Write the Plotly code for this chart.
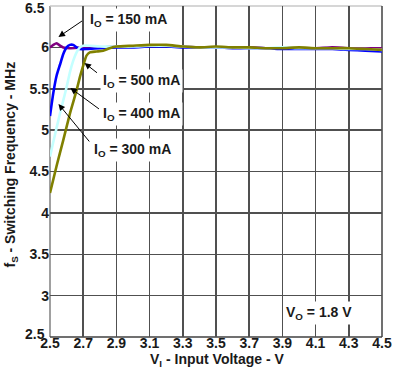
import plotly.graph_objects as go

# ---- data ----
vin_150 = [2.50, 2.52, 2.54, 2.56, 2.58, 2.62, 2.70, 2.80, 2.90, 3.00, 3.10, 3.20, 3.30,
           3.40, 3.50, 3.60, 3.70, 3.80, 3.90, 4.00, 4.10, 4.20, 4.30, 4.40, 4.50]
f_150 = [6.00, 6.03, 6.05, 6.02, 6.00, 5.99, 6.00, 6.00, 6.01, 6.01, 6.02, 6.02, 6.01,
         6.00, 6.00, 6.00, 6.00, 5.99, 5.99, 5.99, 5.99, 6.00, 5.99, 5.99, 5.99]

vin_500 = [2.50, 2.52, 2.54, 2.56, 2.58, 2.60, 2.62, 2.64, 2.66, 2.68, 2.72, 2.80, 2.90,
           3.00, 3.10, 3.20, 3.30, 3.40, 3.50, 3.60, 3.70, 3.80, 3.90, 4.00, 4.10, 4.20,
           4.30, 4.40, 4.50]
f_500 = [5.17, 5.45, 5.66, 5.79, 5.92, 6.00, 6.03, 6.03, 6.00, 5.98, 5.98, 5.99, 6.00,
         6.00, 6.01, 6.01, 6.00, 6.00, 6.00, 5.99, 5.99, 5.99, 5.98, 5.98, 5.98, 5.98,
         5.97, 5.96, 5.95]

vin_400 = [2.50, 2.52, 2.54, 2.56, 2.58, 2.60, 2.62, 2.64, 2.66, 2.68, 2.70, 2.74, 2.80,
           2.90, 3.00, 3.10, 3.20, 3.30, 3.40, 3.50, 3.60, 3.70, 3.80, 3.90, 4.00, 4.10,
           4.20, 4.30, 4.40, 4.50]
f_400 = [4.68, 4.86, 5.03, 5.20, 5.36, 5.52, 5.70, 5.84, 5.94, 6.00, 6.02, 6.02, 6.01,
         6.01, 6.01, 6.02, 6.02, 6.01, 6.00, 6.00, 6.00, 5.99, 5.99, 6.00, 5.99, 5.99,
         5.99, 5.98, 5.98, 5.97]

vin_300 = [2.50, 2.54, 2.58, 2.62, 2.66, 2.68, 2.70, 2.72, 2.74, 2.78, 2.82, 2.86, 2.90,
           3.00, 3.10, 3.20, 3.30, 3.40, 3.50, 3.60, 3.70, 3.80, 3.90, 4.00, 4.10, 4.20,
           4.30, 4.40, 4.50]
f_300 = [4.24, 4.57, 4.88, 5.20, 5.48, 5.64, 5.78, 5.90, 5.94, 5.95, 5.96, 5.99, 6.01,
         6.02, 6.03, 6.03, 6.01, 6.00, 6.01, 6.00, 6.00, 5.99, 5.99, 6.00, 5.99, 5.99,
         5.99, 5.98, 5.97]

x_ticks = [2.5, 2.7, 2.9, 3.1, 3.3, 3.5, 3.7, 3.9, 4.1, 4.3, 4.5]
x_tick_labels = ["2.5", "2.7", "2.9", "3.1", "3.3", "3.5", "3.7", "3.9", "4.1", "4.3", "4.5"]
y_ticks = [2.5, 3, 3.5, 4, 4.5, 5, 5.5, 6, 6.5]
y_tick_labels = ["2.5", "3", "3.5", "4", "4.5", "5", "5.5", "6", "6.5"]

series = [
    ("I<sub>O</sub> = 150 mA", vin_150, f_150, "#800080"),
    ("I<sub>O</sub> = 500 mA", vin_500, f_500, "#0000FF"),
    ("I<sub>O</sub> = 400 mA", vin_400, f_400, "#C4FFFF"),
    ("I<sub>O</sub> = 300 mA", vin_300, f_300, "#808000"),
]

FONT = "Liberation Sans, Arial, sans-serif"
TXT = "#1a1a1a"

fig = go.Figure()
for name, xs, ys, col in series:
    fig.add_trace(go.Scatter(x=xs, y=ys, mode="lines", name=name,
                             line=dict(color=col, width=2.6, shape="spline", smoothing=0.5)))

# arrows: (head_x, head_y, tail_x, tail_y)
arrows = [
    (2.551, 6.126, 2.702, 6.331),
    (2.708, 5.811, 2.792, 5.679),
    (2.623, 5.509, 2.804, 5.243),
    (2.551, 5.316, 2.744, 4.845),
]
labels = [
    ("<b>I<sub>O</sub> = 150 mA</b>", 2.975, 6.33),
    ("<b>I<sub>O</sub> = 500 mA</b>", 3.051, 5.594),
    ("<b>I<sub>O</sub> = 400 mA</b>", 3.051, 5.195),
    ("<b>I<sub>O</sub> = 300 mA</b>", 2.997, 4.760),
    ("<b>V<sub>O</sub> = 1.8 V</b>", 4.123, 2.79),
]

annotations = []
for (hx, hy, tx, ty) in arrows:
    annotations.append(dict(x=hx, y=hy, ax=tx, ay=ty, xref="x", yref="y",
                            axref="x", ayref="y", text="", showarrow=True,
                            arrowhead=2, arrowsize=1.3, arrowwidth=1, arrowcolor="#000000"))
for txt, lx, ly in labels:
    annotations.append(dict(x=lx, y=ly, xref="x", yref="y", text=txt, showarrow=False,
                            bgcolor="#FFFFFF", borderpad=2,
                            font=dict(family=FONT, size=14, color=TXT)))

# end y tick labels, nudged inward as in the reference
for idx, shift in ((len(y_ticks) - 1, -2), (0, 3)):
    annotations.append(dict(x=0, y=y_ticks[idx], xref="paper", yref="y",
                            text=f"<b>{y_tick_labels[idx]}</b>", showarrow=False,
                            xanchor="right", yanchor="middle", xshift=-3, yshift=shift,
                            font=dict(family=FONT, size=14, color=TXT)))

# axis titles
annotations.append(dict(x=0.5045, y=-0.068, xref="paper", yref="paper",
                        text="<b>V<sub>I</sub> - Input Voltage - V</b>", showarrow=False,
                        xanchor="center", yanchor="middle",
                        font=dict(family=FONT, size=14, color=TXT)))
annotations.append(dict(x=-0.1175, y=0.521, xref="paper", yref="paper",
                        text="<b>f<sub>S</sub> - Switching Frequency - MHz</b>", showarrow=False,
                        textangle=-90, xanchor="center", yanchor="middle",
                        font=dict(family=FONT, size=14, color=TXT)))

shapes = [
    dict(type="line", xref="paper", yref="paper", x0=0, x1=0, y0=0, y1=1,
         line=dict(color="#808080", width=1.5), layer="between"),
    dict(type="line", xref="paper", yref="paper", x0=0, x1=1, y0=1, y1=1,
         line=dict(color="#C8C8C8", width=1.5), layer="between"),
    dict(type="line", xref="paper", yref="paper", x0=1, x1=1, y0=0, y1=1,
         line=dict(color="#404040", width=1.5), layer="between"),
    dict(type="line", xref="paper", yref="paper", x0=0, x1=1, y0=0, y1=0,
         line=dict(color="#404040", width=1.5), layer="between"),
]

fig.update_layout(
    width=400, height=385,
    margin=dict(l=50, r=18, t=6, b=48, autoexpand=False),
    paper_bgcolor="#FFFFFF", plot_bgcolor="#FFFFFF",
    showlegend=False,
    annotations=annotations,
    shapes=shapes,
    font=dict(family=FONT, size=14, color=TXT),
)
fig.update_xaxes(range=[2.5, 4.5], tickvals=x_ticks, ticktext=[f"<b>{t}</b>" for t in x_tick_labels],
                 showgrid=True, gridcolor="#505050", gridwidth=1.5, zeroline=False,
                 showline=False, ticks="", tickfont=dict(family=FONT, size=14, color=TXT),
                 automargin=False, ticklabeloverflow="allow", ticklabelstandoff=-4,
                 fixedrange=True)
fig.update_yaxes(range=[2.5, 6.5], tickvals=y_ticks,
                 ticktext=[""] + [f"<b>{t}</b>" for t in y_tick_labels[1:-1]] + [""],
                 showgrid=True, gridcolor="#505050", gridwidth=1.5, zeroline=False,
                 showline=False, ticks="", tickfont=dict(family=FONT, size=14, color=TXT),
                 automargin=False, ticklabeloverflow="allow", fixedrange=True)

fig.write_html("out.html", config={"displayModeBar": False, "staticPlot": True},
               post_script="document.body.style.margin='0';document.body.style.overflow='hidden';")
